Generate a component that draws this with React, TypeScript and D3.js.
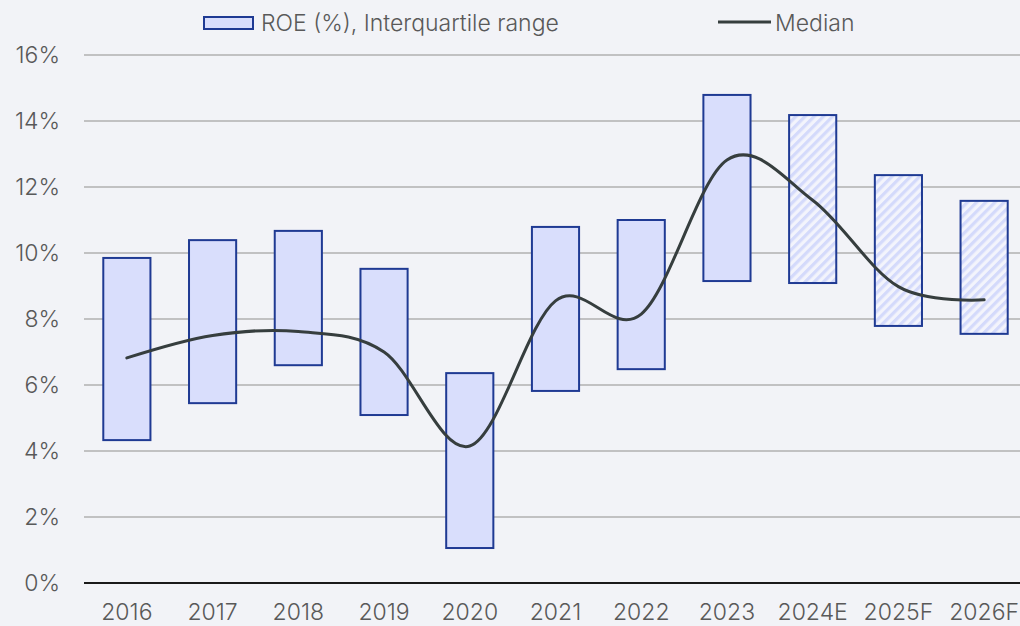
import React, { useEffect, useRef } from 'react';
import * as d3 from 'd3';

const years = ['2016', '2017', '2018', '2019', '2020', '2021', '2022', '2023', '2024E', '2025F', '2026F'];
const forecast = [false, false, false, false, false, false, false, false, true, true, true];
const q1 = [4.33, 5.45, 6.6, 5.09, 1.06, 5.82, 6.48, 9.15, 9.09, 7.79, 7.55];
const q3 = [9.85, 10.39, 10.67, 9.52, 6.36, 10.79, 11.0, 14.79, 14.18, 12.36, 11.58];
const median = [6.82, 7.5, 7.62, 7.0, 4.15, 8.55, 8.15, 12.82, 11.6, 8.98, 8.58];
const yTicks = [0, 2, 4, 6, 8, 10, 12, 14, 16];

const W = 1020;
const H = 626;
const FONT = 'Inter, "Noto Sans", sans-serif';
const FS = 23;

const App = () => {
  const svgRef = useRef<SVGSVGElement>(null);

  useEffect(() => {
    const svg = d3.select(svgRef.current);
    svg.selectAll('*').remove();

    svg.append('rect').attr('width', W).attr('height', H).attr('fill', '#f2f3f7');

    const defs = svg.append('defs');
    const pat = defs
      .append('pattern')
      .attr('id', 'hatch')
      .attr('patternUnits', 'userSpaceOnUse')
      .attr('width', 6.5)
      .attr('height', 6.5)
      .attr('patternTransform', 'rotate(45)');
    pat.append('rect').attr('width', 6.5).attr('height', 6.5).attr('fill', '#f3f4fc');
    pat.append('rect').attr('width', 3.2).attr('height', 6.5).attr('fill', '#d4dafb');

    const x = d3.scaleBand().domain(years).range([84, 1027]).paddingInner(0.45).paddingOuter(0.225);
    const y = d3.scaleLinear().domain([0, 16]).range([583, 55]);

    const txt = (sel: any) =>
      sel.attr('font-family', FONT).attr('font-size', FS).attr('font-weight', 300).attr('fill', '#595959');

    // gridlines
    svg
      .append('g')
      .selectAll('line')
      .data(yTicks.filter((t) => t > 0))
      .enter()
      .append('line')
      .attr('x1', 84)
      .attr('x2', W)
      .attr('y1', (d) => y(d))
      .attr('y2', (d) => y(d))
      .attr('stroke', '#b0b0b0')
      .attr('stroke-width', 1.5);

    // y labels
    svg
      .append('g')
      .selectAll('text')
      .data(yTicks)
      .enter()
      .append('text')
      .attr('x', 60)
      .attr('y', (d) => y(d))
      .attr('dy', '0.35em')
      .attr('text-anchor', 'end')
      .call(txt)
      .text((d) => `${d}%`);

    // bars
    svg
      .append('g')
      .selectAll('rect')
      .data(years)
      .enter()
      .append('rect')
      .attr('x', (d) => x(d)!)
      .attr('width', x.bandwidth())
      .attr('y', (_, i) => y(q3[i]))
      .attr('height', (_, i) => y(q1[i]) - y(q3[i]))
      .attr('fill', (_, i) => (forecast[i] ? 'url(#hatch)' : '#d9defc'))
      .attr('stroke', '#1f3a93')
      .attr('stroke-width', 2);

    // x axis line
    svg
      .append('line')
      .attr('x1', 84)
      .attr('x2', W)
      .attr('y1', y(0))
      .attr('y2', y(0))
      .attr('stroke', '#1a1a1a')
      .attr('stroke-width', 2);

    // x labels
    svg
      .append('g')
      .selectAll('text')
      .data(years)
      .enter()
      .append('text')
      .attr('x', (d) => x(d)! + x.bandwidth() / 2)
      .attr('y', 612)
      .attr('dy', '0.35em')
      .attr('text-anchor', 'middle')
      .call(txt)
      .text((d) => d);

    // median line
    const line = d3
      .line<number>()
      .x((_, i) => x(years[i])! + x.bandwidth() / 2)
      .y((d) => y(d))
      .curve(d3.curveCardinal.tension(0));
    svg
      .append('path')
      .attr('d', line(median))
      .attr('fill', 'none')
      .attr('stroke', '#363e3e')
      .attr('stroke-width', 3)
      .attr('stroke-linecap', 'round');

    // legend
    const lg = svg.append('g');
    lg.append('rect')
      .attr('x', 204)
      .attr('y', 17)
      .attr('width', 49)
      .attr('height', 12)
      .attr('fill', '#d9defc')
      .attr('stroke', '#1f3a93')
      .attr('stroke-width', 2);
    lg.append('text')
      .attr('x', 261)
      .attr('y', 23)
      .attr('dy', '0.35em')
      .call(txt)
      .text('ROE (%), Interquartile range');
    lg.append('line')
      .attr('x1', 718)
      .attr('x2', 771)
      .attr('y1', 22)
      .attr('y2', 22)
      .attr('stroke', '#363e3e')
      .attr('stroke-width', 3);
    lg.append('text')
      .attr('x', 775)
      .attr('y', 23)
      .attr('dy', '0.35em')
      .call(txt)
      .text('Median');
  }, []);

  return (
    <svg
      ref={svgRef}
      width={W}
      height={H}
      style={{ position: 'absolute', left: 0, top: 0, display: 'block' }}
    ></svg>
  );
};

export default App;
